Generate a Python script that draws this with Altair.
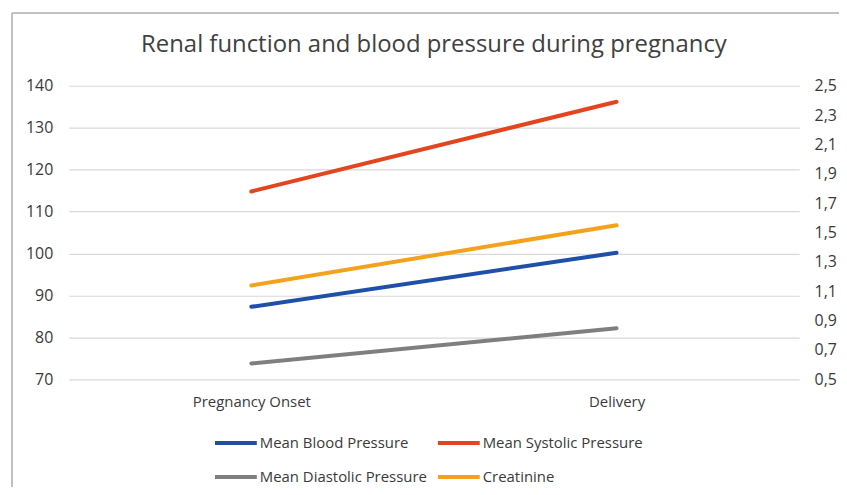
import altair as alt
import pandas as pd

categories = ["Pregnancy Onset", "Delivery"]
mean_bp = [87.3, 100.2]
mean_systolic = [114.8, 136.2]
mean_diastolic = [73.8, 82.2]
creatinine = [1.14, 1.55]

series_names = ["Mean Blood Pressure", "Mean Systolic Pressure",
                "Mean Diastolic Pressure", "Creatinine"]
series_colors = ["#1F4FA8", "#E3451F", "#7F7F7F", "#F4A11C"]
# legend is laid out column by column: this order shows rows
# (Blood, Systolic) / (Diastolic, Creatinine)
legend_order = ["Mean Blood Pressure", "Mean Diastolic Pressure",
                "Mean Systolic Pressure", "Creatinine"]
left_ticks = [70, 80, 90, 100, 110, 120, 130, 140]
right_ticks = [0.5, 0.7, 0.9, 1.1, 1.3, 1.5, 1.7, 1.9, 2.1, 2.3, 2.5]

rows = []
for name, vals in zip(series_names[:3], [mean_bp, mean_systolic, mean_diastolic]):
    for c, v in zip(categories, vals):
        rows.append({"series": name, "category": c, "value": v})
bp_df = pd.DataFrame(rows)
cr_df = pd.DataFrame({"series": "Creatinine", "category": categories, "value": creatinine})

color_map = dict(zip(series_names, series_colors))

FONT = "Open Sans"
TEXT = "#3A3A3A"

color = alt.Color(
    "series:N",
    scale=alt.Scale(domain=legend_order, range=[color_map[s] for s in legend_order]),
    legend=alt.Legend(
        title=None, orient="none", legendX=145, legendY=336, columns=2,
        symbolType="stroke", symbolSize=1764, symbolStrokeWidth=4,
        labelFont=FONT, labelFontSize=15, labelColor=TEXT, labelOffset=1,
        columnPadding=2, rowPadding=3, labelLimit=300,
    ),
)

xenc = alt.X(
    "category:N", sort=categories, title=None,
    scale=alt.Scale(paddingInner=0, paddingOuter=0),
    axis=alt.Axis(labelAngle=0, domain=False, ticks=False, grid=False,
                  labelFont=FONT, labelFontSize=15, labelColor=TEXT, labelPadding=15),
)

left = alt.Chart(bp_df).mark_line(strokeWidth=4, strokeCap="round").encode(
    x=xenc,
    y=alt.Y("value:Q", title=None,
            scale=alt.Scale(domain=[70, 140], nice=False, zero=False),
            axis=alt.Axis(values=left_ticks, domain=False, ticks=False,
                          gridColor="#D9D9D9", gridWidth=1.2,
                          labelFont=FONT, labelFontSize=16, labelColor=TEXT,
                          labelPadding=16)),
    color=color,
    detail="series:N",
)

right = alt.Chart(cr_df).mark_line(strokeWidth=4, strokeCap="round").encode(
    x=xenc,
    y=alt.Y("value:Q", title=None,
            scale=alt.Scale(domain=[0.5, 2.5], nice=False, zero=False),
            axis=alt.Axis(orient="right", values=right_ticks, domain=False, ticks=False,
                          grid=False, labelFont=FONT, labelFontSize=16, labelColor=TEXT,
                          labelPadding=15,
                          labelExpr="replace(format(datum.value, '.1f'), '.', ',')")),
    color=color,
)

frame_v = alt.Chart(cr_df).mark_rule(color="#BFBFBF", strokeWidth=2).encode(
    x=alt.value(-57), y=alt.value(-73), y2=alt.value(420))
frame_h = alt.Chart(cr_df).mark_rule(color="#BFBFBF", strokeWidth=2).encode(
    x=alt.value(-57), x2=alt.value(800), y=alt.value(-73))

chart = alt.layer(frame_v, frame_h, left, right).resolve_scale(y="independent").properties(
    width=734, height=295,
    autosize=alt.AutoSizeParams(type="none"),
    padding={"left": 61, "top": 77, "right": 40, "bottom": 107},
    title=alt.Title("Renal function and blood pressure during pregnancy",
                    font=FONT, fontSize=24, fontWeight="normal", color="#404040",
                    offset=-64, baseline="alphabetic", frame="group"),
).configure_view(stroke=None)

chart.save("out.html", embed_options={"renderer": "svg", "actions": False})
